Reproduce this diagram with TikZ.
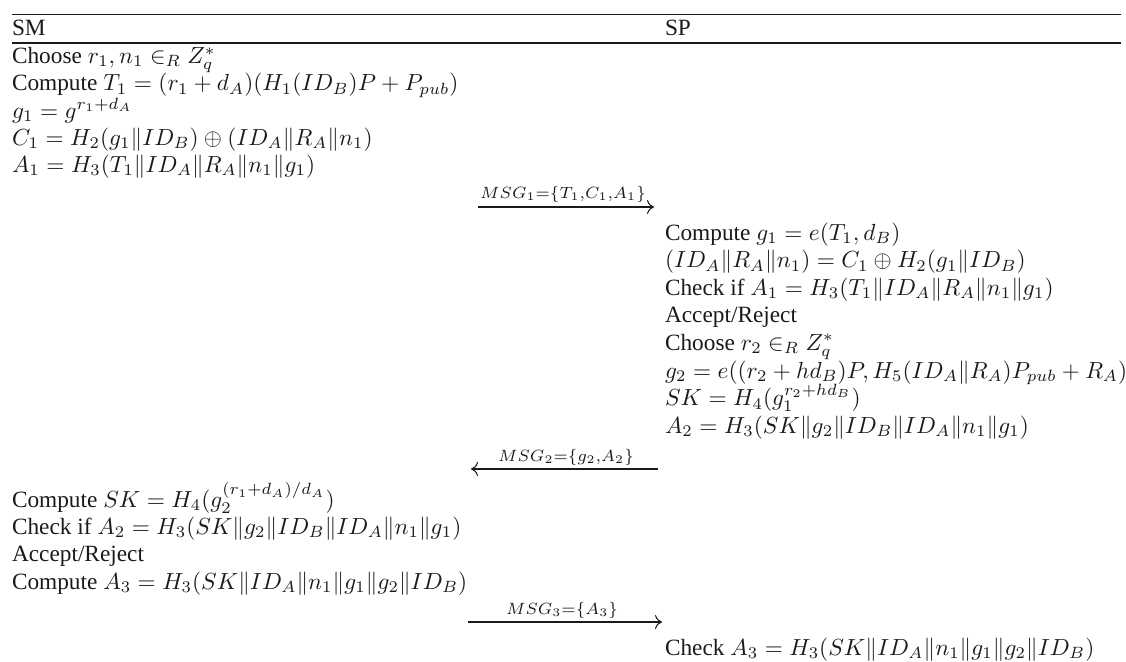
\documentclass[tikz,border=0pt]{standalone}
\usepackage{amsmath,amssymb}
\usepackage[no-math]{fontspec}
\setmainfont{Liberation Serif}
\usepackage{tikz}
\usetikzlibrary{arrows.meta,positioning,calc}
\definecolor{ink}{HTML}{1A1A1A}
\tikzset{
    every picture/.style={line join=round},
    steptext/.style={anchor=base west,inner sep=0pt,outer sep=0pt,
      text=ink,font=\normalsize},
    msglabel/.style={anchor=base,inner sep=0pt,text=ink},
    msgarrow/.style={-{To[length=3pt,width=6pt]},draw=ink,line width=0.45pt},
    toprulestyle/.style={draw=ink,line width=0.75pt},
    midrulestyle/.style={draw=ink,line width=0.5pt}
}

\begin{document}
\begin{tikzpicture}[x=0.429pt,y=-0.429pt]
  \useasboundingbox (0,0) rectangle (1126,661);
  % header
  \coordinate (tl) at (12,14.5);
  \coordinate (tr) at (1121,14.5);
  \coordinate (ml) at (12,43);
  \coordinate (mr) at (1121,43);
  \draw[toprulestyle] (tl) -- (tr);
  \draw[midrulestyle] (ml) -- (mr);
  \node[steptext] (smhead) at (12,35) {SM};
  \node[steptext] (sphead) at (665,35) {SP};
  % SM, first round
  \node[steptext] (sm1) at (12,63.5) {Choose $r_1, n_1 \in_R Z_q^*$};
  \node[steptext] (sm2) at (12,90.8) {Compute $T_1 = (r_1 + d_A)(H_1(ID_B)P + P_{pub})$};
  \node[steptext] (sm3) at (12,118) {$g_1 = g^{r_1 + d_A}$};
  \node[steptext] (sm4) at (12,145.2) {$C_1 = H_2(g_1 \| ID_B) \oplus (ID_A \| R_A \| n_1)$};
  \node[steptext] (sm5) at (12,172.4) {$A_1 = H_3(T_1 \| ID_A \| R_A \| n_1 \| g_1)$};
  % message 1
  \coordinate (m1s) at (478,207);
  \coordinate (m1e) at (654,207);
  \draw[msgarrow] (m1s) -- (m1e);
  \node[msglabel] (msg1) at (563,198) {$\scriptstyle MSG_1=\{T_1,C_1,A_1\}$};
  % SP
  \node[steptext] (sp1) at (665,240) {Compute $g_1 = e(T_1, d_B)$};
  \node[steptext] (sp2) at (665,267.6) {$(ID_A \| R_A \| n_1) = C_1 \oplus H_2(g_1 \| ID_B)$};
  \node[steptext] (sp3) at (665,295.2) {Check if $A_1 = H_3(T_1 \| ID_A \| R_A \| n_1 \| g_1)$};
  \node[steptext] (sp4) at (665,322.8) {Accept/Reject};
  \node[steptext] (sp5) at (665,350.4) {Choose $r_2 \in_R Z_q^*$};
  \node[steptext] (sp6) at (665,378) {$g_2 = e((r_2 + hd_B)P, H_5(ID_A \| R_A)P_{pub} + R_A)$};
  \node[steptext] (sp7) at (665,405.6) {$SK = H_4(g_1^{r_2 + hd_B})$};
  \node[steptext] (sp8) at (665,433.2) {$A_2 = H_3(SK \| g_2 \| ID_B \| ID_A \| n_1 \| g_1)$};
  % message 2
  \coordinate (m2s) at (658,469);
  \coordinate (m2e) at (471,469);
  \draw[msgarrow] (m2s) -- (m2e);
  \node[msglabel] (msg2) at (566,461) {$\scriptstyle MSG_2=\{g_2,A_2\}$};
  % SM, second round
  \node[steptext] (sm6) at (12,507) {Compute $SK = H_4(g_2^{(r_1+d_A)/d_A})$};
  \node[steptext] (sm7) at (12,534.4) {Check if $A_2 = H_3(SK \| g_2 \| ID_B \| ID_A \| n_1 \| g_1)$};
  \node[steptext] (sm8) at (12,561.8) {Accept/Reject};
  \node[steptext] (sm9) at (12,589.2) {Compute $A_3 = H_3(SK \| ID_A \| n_1 \| g_1 \| g_2 \| ID_B)$};
  % message 3
  \coordinate (m3s) at (468,622);
  \coordinate (m3e) at (662,622);
  \draw[msgarrow] (m3s) -- (m3e);
  \node[msglabel] (msg3) at (562,614) {$\scriptstyle MSG_3=\{A_3\}$};
  % SP, final check
  \node[steptext] (sp9) at (665,655) {Check $A_3 = H_3(SK \| ID_A \| n_1 \| g_1 \| g_2 \| ID_B)$};
\end{tikzpicture}
\end{document}
